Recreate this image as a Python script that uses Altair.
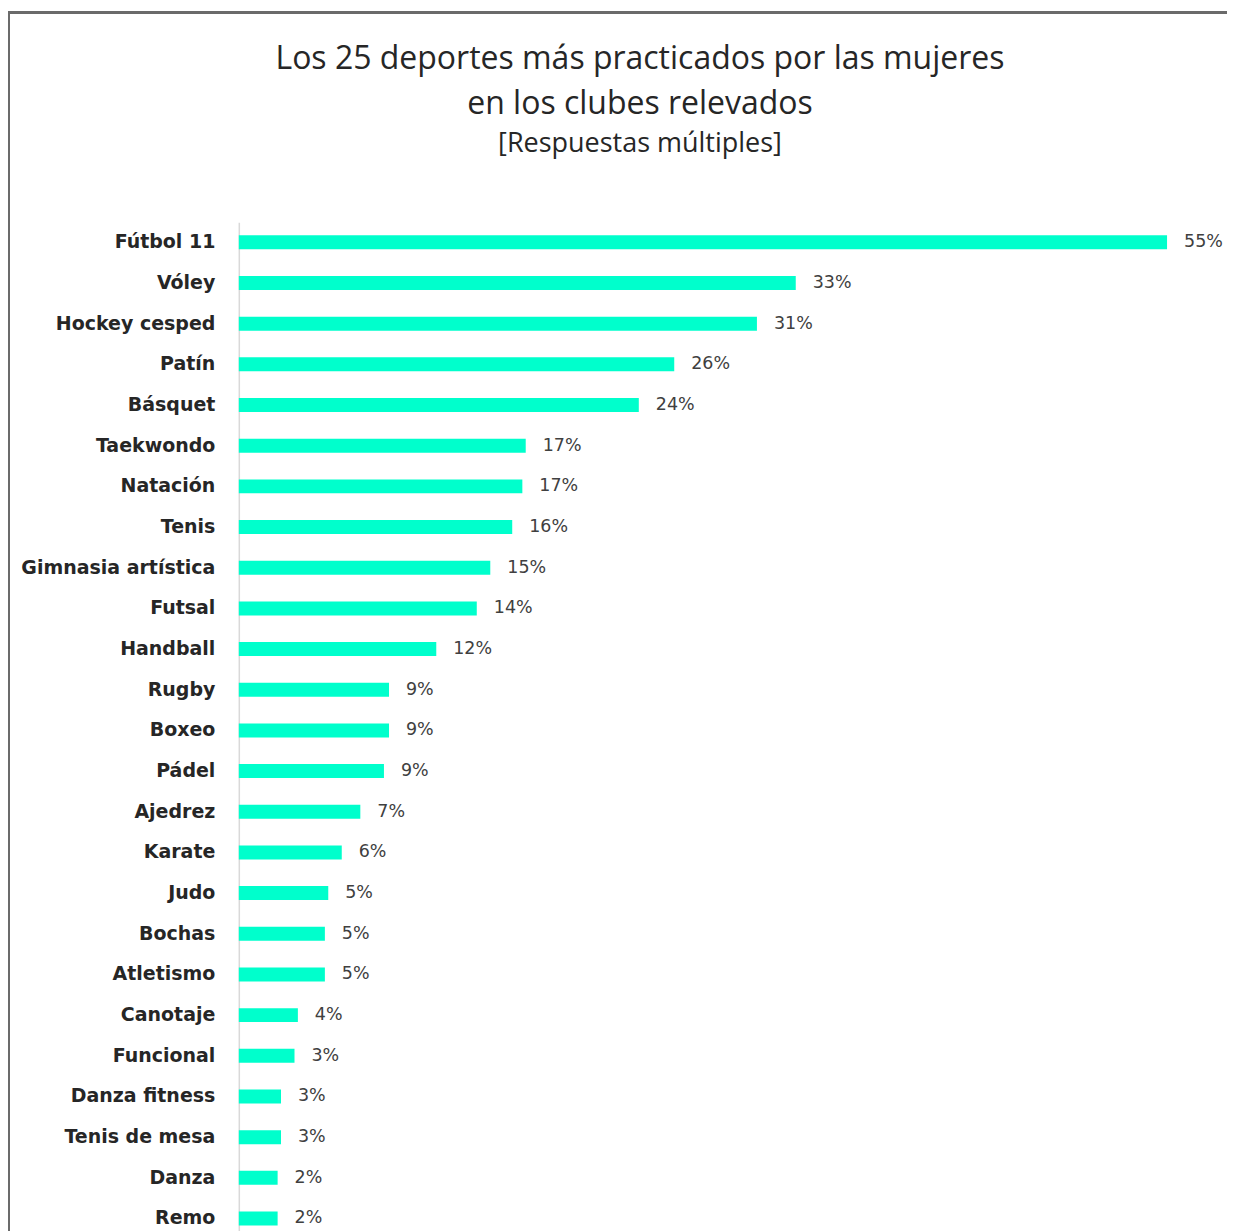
import altair as alt
import pandas as pd

deportes = ["Fútbol 11", "Vóley", "Hockey cesped", "Patín", "Básquet", "Taekwondo",
            "Natación", "Tenis", "Gimnasia artística", "Futsal", "Handball", "Rugby",
            "Boxeo", "Pádel", "Ajedrez", "Karate", "Judo", "Bochas", "Atletismo",
            "Canotaje", "Funcional", "Danza fitness", "Tenis de mesa", "Danza", "Remo"]
valores = [55.0, 33.0, 30.7, 25.8, 23.7, 17.0, 16.8, 16.2, 14.9, 14.1, 11.7, 8.9,
           8.9, 8.6, 7.2, 6.1, 5.3, 5.1, 5.1, 3.5, 3.3, 2.5, 2.5, 2.3, 2.3]
etiquetas = ["55%", "33%", "31%", "26%", "24%", "17%", "17%", "16%", "15%", "14%",
             "12%", "9%", "9%", "9%", "7%", "6%", "5%", "5%", "5%", "4%", "3%",
             "3%", "3%", "2%", "2%"]

df = pd.DataFrame({"deporte": deportes, "valor": valores, "etiqueta": etiquetas})

W = 929
H = 1017

y = alt.Y("deporte:N", sort=deportes,
          scale=alt.Scale(paddingInner=0.656, paddingOuter=0.32),
          axis=alt.Axis(title=None, ticks=False, domain=True, domainColor="#d9d9d9",
                        domainWidth=1.5, labelFont="DejaVu Sans", labelFontWeight="bold",
                        labelFontSize=19, labelColor="#262626", labelPadding=24,
                        labelLimit=400))
x = alt.X("valor:Q", scale=alt.Scale(domain=[0, 55], nice=False), axis=None)

bars = alt.Chart(df).mark_bar(color="#00FFCC", size=14).encode(x=x, y=y)
text = alt.Chart(df).mark_text(align="left", dx=17, font="DejaVu Sans", fontSize=17.5,
                               color="#404040").encode(x=x, y=y, text="etiqueta:N")

frame = alt.Chart(df).mark_rect(fill=None, stroke="#6b6b6b", strokeWidth=2).encode(
    x=alt.value(-230), x2=alt.value(1060), y=alt.value(-210), y2=alt.value(1100))

chart = alt.layer(frame, bars, text).properties(
    width=W, height=H,
    background="white",
    title=alt.TitleParams(
        text=["Los 25 deportes más practicados por las mujeres", "en los clubes relevados"],
        subtitle="[Respuestas múltiples]",
        anchor="middle", frame="group", dx=-63, dy=211, offset=64,
        font="Open Sans", fontSize=32, fontWeight="normal", color="#262626", lineHeight=45,
        subtitleFont="Open Sans", subtitleFontSize=27, subtitleColor="#262626",
        subtitlePadding=10),
    autosize=alt.AutoSizeParams(type="none"),
    padding={"left": 231, "top": 214, "right": 60, "bottom": 0},
).configure_view(stroke="transparent", strokeWidth=0)

chart.save("out.html", embed_options={"renderer": "svg", "actions": False})
